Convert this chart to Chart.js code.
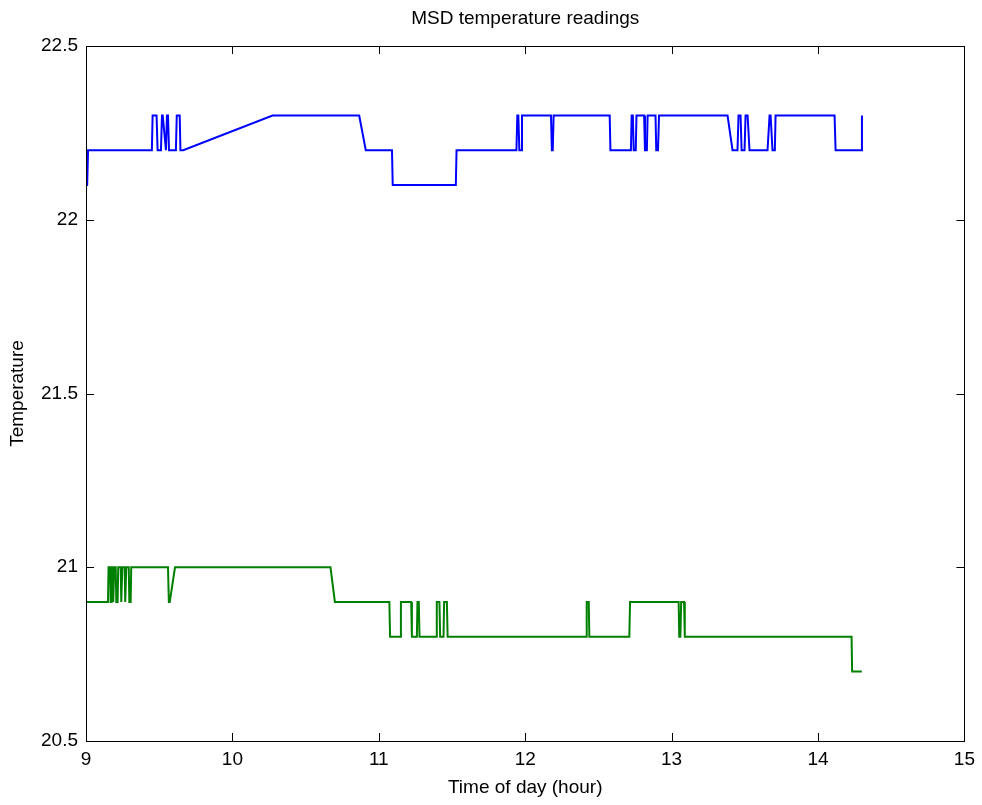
<!DOCTYPE html>
<html>
<head>
<meta charset="utf-8">
<title>MSD temperature readings</title>
<script src="https://cdn.jsdelivr.net/npm/chart.js@4"></script>
<style>
  body { margin: 0; background: #fff; }
  #wrap { width: 982px; height: 805px; }
</style>
</head>
<body>
<div id="wrap"><canvas id="chart" width="982" height="805"></canvas></div>
<script>
// readings (hour of day, degrees)
const blueTimes = [
  9.000, 9.008, 9.014, 9.450, 9.455, 9.482, 9.489, 9.512, 9.519, 9.524, 9.546, 9.553,
  9.560, 9.567, 9.614, 9.620, 9.640, 9.645, 9.664, 10.274, 10.866, 10.911, 11.090, 11.095,
  11.526, 11.531, 11.940, 11.946, 11.953, 11.960, 11.972, 11.978, 12.176, 12.182, 12.188, 12.194,
  12.577, 12.582, 12.722, 12.727, 12.735, 12.741, 12.755, 12.760, 12.812, 12.818, 12.831, 12.836,
  12.890, 12.895, 12.907, 12.914, 13.382, 13.416, 13.450, 13.457, 13.471, 13.478, 13.498, 13.505,
  13.519, 13.532, 13.655, 13.669, 13.676, 13.689, 13.705, 13.710, 14.113, 14.120, 14.295, 14.300
];
const blueTemps = [
  22.1, 22.1, 22.2, 22.2, 22.3, 22.3, 22.2, 22.2, 22.3, 22.3, 22.2, 22.3,
  22.3, 22.2, 22.2, 22.3, 22.3, 22.2, 22.2, 22.3, 22.3, 22.2, 22.2, 22.1,
  22.1, 22.2, 22.2, 22.3, 22.3, 22.2, 22.2, 22.3, 22.3, 22.2, 22.2, 22.3,
  22.3, 22.2, 22.2, 22.3, 22.3, 22.2, 22.2, 22.3, 22.3, 22.2, 22.2, 22.3,
  22.3, 22.2, 22.2, 22.3, 22.3, 22.2, 22.2, 22.3, 22.3, 22.2, 22.2, 22.3,
  22.3, 22.2, 22.2, 22.3, 22.3, 22.2, 22.2, 22.3, 22.3, 22.2, 22.2, 22.3
];

const greenTimes = [
  9.000, 9.150, 9.154, 9.165, 9.168, 9.172, 9.175, 9.182, 9.186, 9.189, 9.193, 9.203,
  9.207, 9.216, 9.220, 9.237, 9.241, 9.244, 9.248, 9.264, 9.268, 9.271, 9.275, 9.292,
  9.296, 9.305, 9.309, 9.322, 9.326, 9.560, 9.566, 9.572, 9.608, 10.670, 10.700, 11.072,
  11.077, 11.146, 11.151, 11.221, 11.226, 11.260, 11.264, 11.273, 11.278, 11.392, 11.396, 11.414,
  11.419, 11.442, 11.446, 11.465, 11.470, 12.416, 12.420, 12.434, 12.438, 12.711, 12.716, 13.048,
  13.052, 13.060, 13.065, 13.085, 13.090, 13.102, 13.106, 14.229, 14.233, 14.299
];
const greenTemps = [
  20.9, 20.9, 21.0, 21.0, 20.9, 20.9, 21.0, 21.0, 20.9, 20.9, 21.0, 21.0,
  20.9, 20.9, 21.0, 21.0, 20.9, 20.9, 21.0, 21.0, 20.9, 20.9, 21.0, 21.0,
  20.9, 20.9, 21.0, 21.0, 21.0, 21.0, 20.9, 20.9, 21.0, 21.0, 20.9, 20.9,
  20.8, 20.8, 20.9, 20.9, 20.8, 20.8, 20.9, 20.9, 20.8, 20.8, 20.9, 20.9,
  20.8, 20.8, 20.9, 20.9, 20.8, 20.8, 20.9, 20.9, 20.8, 20.8, 20.9, 20.9,
  20.8, 20.8, 20.9, 20.9, 20.8, 20.8, 20.8, 20.8, 20.7, 20.7
];

const xTicks = [9, 10, 11, 12, 13, 14, 15];
const yTicks = [20.5, 21, 21.5, 22, 22.5];

function toPoints(xs, ys) {
  return xs.map((x, i) => ({ x: x, y: ys[i] }));
}

// frame around the plot plus inward tick marks on all four sides
const framePlugin = {
  id: 'frame',
  afterDraw(chart) {
    const ctx = chart.ctx;
    const a = chart.chartArea;
    const xs = chart.scales.x, ys = chart.scales.y;
    const len = 8;
    ctx.save();
    ctx.strokeStyle = '#000';
    ctx.lineWidth = 1;
    ctx.strokeRect(Math.round(a.left) + 0.5, Math.round(a.top) + 0.5,
      Math.round(a.right - a.left), Math.round(a.bottom - a.top));
    ctx.beginPath();
    xTicks.forEach(v => {
      const px = Math.round(xs.getPixelForValue(v)) + 0.5;
      ctx.moveTo(px, a.bottom); ctx.lineTo(px, a.bottom - len);
      ctx.moveTo(px, a.top); ctx.lineTo(px, a.top + len);
    });
    yTicks.forEach(v => {
      const py = Math.round(ys.getPixelForValue(v)) + 0.5;
      ctx.moveTo(a.left, py); ctx.lineTo(a.left + len, py);
      ctx.moveTo(a.right, py); ctx.lineTo(a.right - len, py);
    });
    ctx.stroke();
    ctx.restore();
  }
};

const font = { family: '"Liberation Sans", Arial, sans-serif', size: 19 };

new Chart(document.getElementById('chart'), {
  type: 'scatter',
  data: {
    datasets: [{
      label: 'upper',
      data: toPoints(blueTimes, blueTemps),
      showLine: true,
      borderColor: '#0000ff',
      borderWidth: 2,
      pointRadius: 0,
      tension: 0
    }, {
      label: 'lower',
      data: toPoints(greenTimes, greenTemps),
      showLine: true,
      borderColor: '#008000',
      borderWidth: 2,
      pointRadius: 0,
      tension: 0
    }]
  },
  options: {
    responsive: false,
    animation: false,
    devicePixelRatio: 1,
    layout: { padding: { left: 0, right: 17, top: 0, bottom: 0 } },
    plugins: {
      legend: { display: false },
      tooltip: { enabled: false },
      title: {
        display: true,
        text: 'MSD temperature readings',
        fullSize: false,
        color: '#000',
        font: { family: font.family, size: 19, weight: 'normal' },
        padding: { top: 7, bottom: 16.2 }
      }
    },
    scales: {
      x: {
        type: 'linear',
        min: 9,
        max: 15,
        afterBuildTicks: s => { s.ticks = xTicks.map(v => ({ value: v })); },
        ticks: { color: '#000', font: font, padding: 7, maxRotation: 0, callback: v => String(v) },
        grid: { display: false, drawTicks: false },
        border: { display: false },
        title: { display: true, text: 'Time of day (hour)', color: '#000', font: font, padding: { top: 0, bottom: 5.6 } },
        afterFit: s => { s.height = 64; }
      },
      y: {
        min: 20.5,
        max: 22.5,
        afterBuildTicks: s => { s.ticks = yTicks.map(v => ({ value: v })); },
        ticks: { color: '#000', font: font, padding: 8, callback: v => String(v) },
        grid: { display: false, drawTicks: false },
        border: { display: false },
        title: { display: true, text: 'Temperature', color: '#000', font: font, padding: { top: 6.6, bottom: 0 } },
        afterFit: s => { s.width = 86; }
      }
    }
  },
  plugins: [framePlugin]
});
</script>
</body>
</html>
